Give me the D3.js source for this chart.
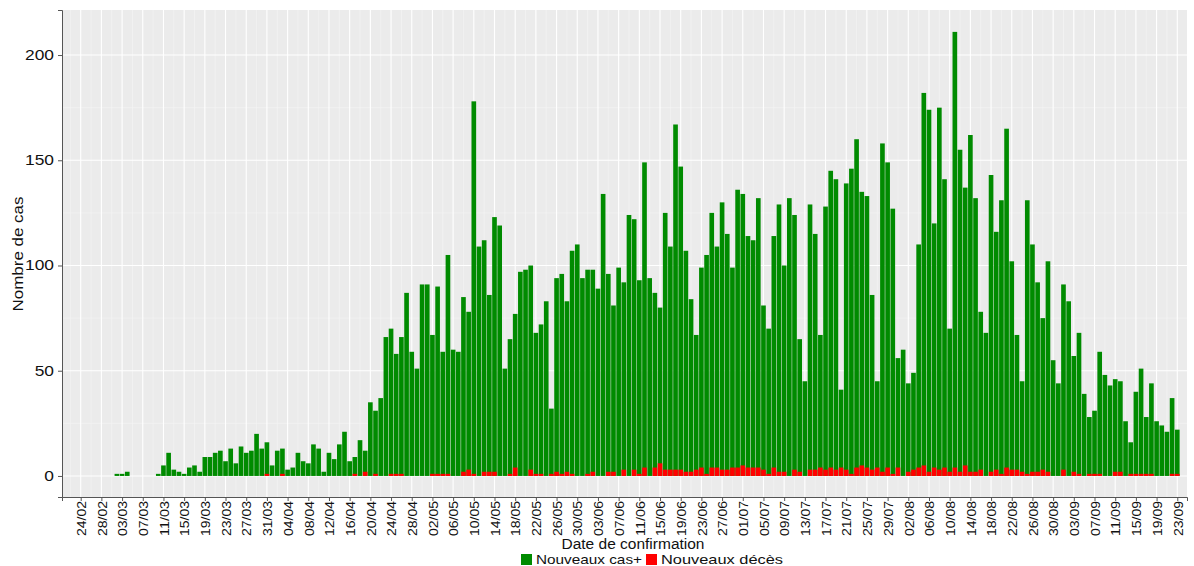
<!DOCTYPE html>
<html>
<head>
<meta charset="utf-8">
<script src="https://cdn.jsdelivr.net/npm/d3@7"></script>
<style>
    body { margin: 0; background: #ffffff; }
    svg { display: block; font-family: "Liberation Sans", Arial, Helvetica, sans-serif; }
</style>
</head>
<body>
<div id="chart"></div>
<script>

// daily values, one entry per day starting at 24/02/2020
const startDate = "2020-02-24";

const newCases = [
    0, 0, 0, 0, 0, 0, 0, 1, 1, 2,
    0, 0, 0, 0, 0, 1, 5, 11, 3, 2,
    1, 4, 5, 2, 9, 9, 11, 12, 7, 13,
    6, 14, 11, 12, 20, 13, 16, 5, 12, 13,
    3, 4, 11, 7, 6, 15, 13, 2, 11, 8,
    15, 21, 7, 9, 17, 12, 35, 31, 37, 66,
    70, 58, 66, 87, 59, 51, 91, 91, 67, 90,
    59, 105, 60, 59, 85, 78, 178, 109, 112, 86,
    123, 119, 51, 65, 77, 97, 98, 100, 68, 72,
    83, 32, 94, 96, 83, 107, 110, 94, 98, 98,
    89, 134, 96, 81, 99, 92, 124, 122, 93, 149,
    94, 87, 80, 125, 109, 167, 147, 107, 84, 67,
    99, 105, 125, 109, 130, 115, 99, 136, 134, 114,
    112, 132, 81, 70, 114, 129, 100, 132, 124, 65,
    45, 129, 115, 67, 128, 145, 141, 41, 139, 146,
    160, 135, 133, 86, 45, 158, 149, 127, 56, 60,
    44, 49, 110, 182, 174, 120, 175, 141, 70, 211,
    155, 137, 162, 132, 78, 68, 143, 116, 131, 165,
    102, 67, 45, 131, 110, 92, 75, 102, 55, 44,
    91, 83, 57, 68, 39, 28, 31, 59, 48, 43,
    46, 45, 26, 16, 40, 51, 28, 44, 26, 24,
    21, 37, 22
];

const newDeaths = [
    0, 0, 0, 0, 0, 0, 0, 0, 0, 0,
    0, 0, 0, 0, 0, 0, 0, 0, 0, 0,
    0, 0, 0, 0, 0, 0, 0, 0, 0, 0,
    0, 0, 0, 0, 0, 0, 1, 0, 0, 1,
    0, 0, 0, 0, 0, 0, 0, 0, 0, 0,
    0, 0, 0, 1, 0, 2, 0, 1, 0, 0,
    1, 1, 1, 0, 0, 0, 0, 0, 1, 1,
    1, 1, 0, 0, 2, 3, 1, 0, 2, 2,
    2, 0, 0, 1, 4, 0, 0, 3, 1, 1,
    0, 1, 2, 1, 2, 1, 0, 0, 1, 2,
    0, 0, 2, 2, 0, 3, 0, 3, 1, 4,
    0, 4, 6, 3, 3, 3, 3, 2, 2, 3,
    4, 1, 4, 4, 3, 3, 4, 4, 5, 4,
    4, 4, 3, 1, 4, 2, 2, 0, 3, 2,
    0, 3, 3, 4, 3, 4, 3, 4, 3, 1,
    4, 5, 4, 3, 4, 2, 4, 1, 4, 0,
    2, 3, 4, 5, 2, 4, 3, 4, 2, 4,
    2, 5, 2, 2, 3, 0, 2, 3, 1, 4,
    3, 3, 2, 1, 2, 2, 3, 2, 0, 0,
    3, 0, 2, 1, 0, 1, 1, 1, 0, 0,
    2, 2, 0, 1, 1, 1, 1, 1, 0, 0,
    0, 1, 1
];

const tickLabels = [
    "24/02", "28/02", "03/03", "07/03", "11/03", "15/03", "19/03", "23/03", "27/03",
    "31/03", "04/04", "08/04", "12/04", "16/04", "20/04", "24/04", "28/04", "02/05",
    "06/05", "10/05", "14/05", "18/05", "22/05", "26/05", "30/05", "03/06", "07/06",
    "11/06", "15/06", "19/06", "23/06", "27/06", "01/07", "05/07", "09/07", "13/07",
    "17/07", "21/07", "25/07", "29/07", "02/08", "06/08", "10/08", "14/08", "18/08",
    "22/08", "26/08", "30/08", "03/09", "07/09", "11/09", "15/09", "19/09", "23/09"
];

const yTicks = [0, 50, 100, 150, 200];
const yMinor = [25, 75, 125, 175];

const seriesNames = ["Nouveaux cas+", "Nouveaux décès"];
const seriesColors = ["#008B00", "#FF0000"];

const width = 1194;
const height = 566;

const panel = { left: 62, right: 1187, top: 10, bottom: 497 };

// the original text is drawn a little wider than the font
function widen(selection, k) {
    selection.each(function() {
        const w = this.getComputedTextLength();
        d3.select(this)
            .attr("textLength", w * k)
            .attr("lengthAdjust", "spacingAndGlyphs");
    });
}

const svg = d3.select("#chart")
    .append("svg")
    .attr("width", width)
    .attr("height", height);

const day0 = d3.utcParse("%Y-%m-%d")(startDate);
const dayMs = 864e5;

const dates = newCases.map(function(d, i) {
    return d3.utcDay.offset(day0, i);
});

const tickDates = tickLabels.map(function(d, i) {
    return d3.utcDay.offset(day0, i * 4);
});

// panel limits in days, measured on the original
const x = d3.scaleUtc()
    .domain([new Date(+day0 - 3.615 * dayMs), new Date(+day0 + 213.88 * dayMs)])
    .range([panel.left, panel.right]);

const y = d3.scaleLinear()
    .domain([-10, 221.4])
    .range([panel.bottom, panel.top]);

// panel background
svg.append("rect")
    .attr("x", panel.left)
    .attr("y", panel.top)
    .attr("width", panel.right - panel.left)
    .attr("height", panel.bottom - panel.top)
    .attr("fill", "#EBEBEB");

// minor grid
const minorX = [d3.utcDay.offset(day0, -2)].concat(tickDates.map(function(d) {
    return d3.utcDay.offset(d, 2);
}));

svg.append("g")
    .selectAll("line")
    .data(minorX.filter(function(d) { return x(d) > panel.left && x(d) < panel.right; }))
    .enter()
    .append("line")
    .attr("x1", function(d) { return x(d); })
    .attr("x2", function(d) { return x(d); })
    .attr("y1", panel.top)
    .attr("y2", panel.bottom)
    .attr("stroke", "#F5F5F5")
    .attr("stroke-width", 0.6);

svg.append("g")
    .selectAll("line")
    .data(yMinor)
    .enter()
    .append("line")
    .attr("x1", panel.left)
    .attr("x2", panel.right)
    .attr("y1", function(d) { return y(d); })
    .attr("y2", function(d) { return y(d); })
    .attr("stroke", "#F5F5F5")
    .attr("stroke-width", 0.6);

// major grid
svg.append("g")
    .selectAll("line")
    .data(tickDates)
    .enter()
    .append("line")
    .attr("x1", function(d) { return x(d); })
    .attr("x2", function(d) { return x(d); })
    .attr("y1", panel.top)
    .attr("y2", panel.bottom)
    .attr("stroke", "#ffffff")
    .attr("stroke-width", 1.1);

svg.append("g")
    .selectAll("line")
    .data(yTicks)
    .enter()
    .append("line")
    .attr("x1", panel.left)
    .attr("x2", panel.right)
    .attr("y1", function(d) { return y(d); })
    .attr("y2", function(d) { return y(d); })
    .attr("stroke", "#ffffff")
    .attr("stroke-width", 1.1);

// bars
const barW = (x(dates[1]) - x(dates[0])) * 0.9;

svg.append("g")
    .selectAll("rect")
    .data(newCases)
    .enter()
    .append("rect")
    .attr("x", function(d, i) { return x(dates[i]) - barW / 2; })
    .attr("y", function(d) { return y(d); })
    .attr("width", barW)
    .attr("height", function(d) { return y(0) - y(d); })
    .attr("fill", seriesColors[0]);

svg.append("g")
    .selectAll("rect")
    .data(newDeaths)
    .enter()
    .append("rect")
    .attr("x", function(d, i) { return x(dates[i]) - barW / 2; })
    .attr("y", function(d) { return y(d); })
    .attr("width", barW)
    .attr("height", function(d) { return y(0) - y(d); })
    .attr("fill", seriesColors[1]);

// axes
const xAxis = d3.axisBottom(x)
    .tickValues(tickDates)
    .tickFormat(function(d, i) { return tickLabels[i]; })
    .tickSize(4)
    .tickPadding(3);

const gx = svg.append("g")
    .attr("transform", "translate(0," + panel.bottom + ")")
    .call(xAxis);

gx.select(".domain").attr("stroke", "#555555");
gx.selectAll(".tick line").attr("stroke", "#555555");
gx.selectAll(".tick text")
    .attr("transform", "rotate(-90)")
    .attr("text-anchor", "end")
    .attr("x", -4)
    .attr("y", 0)
    .attr("dy", "0.35em")
    .attr("font-size", 13.5)
    .attr("fill", "#111111")
    .attr("textLength", 35)
    .attr("lengthAdjust", "spacingAndGlyphs");

const yAxis = d3.axisLeft(y)
    .tickValues(yTicks)
    .tickSize(4)
    .tickPadding(4);

const gy = svg.append("g")
    .attr("transform", "translate(" + panel.left + ",0)")
    .call(yAxis);

gy.select(".domain").attr("stroke", "#555555");
gy.selectAll(".tick line").attr("stroke", "#555555");
gy.selectAll(".tick text")
    .attr("font-size", 14)
    .attr("fill", "#111111")
    .call(widen, 1.24);

// titles
svg.append("text")
    .attr("transform", "translate(23,254) rotate(-90)")
    .attr("text-anchor", "middle")
    .attr("font-size", 15)
    .attr("textLength", 115)
    .attr("lengthAdjust", "spacingAndGlyphs")
    .attr("fill", "#111111")
    .text("Nombre de cas");

svg.append("text")
    .attr("x", 633)
    .attr("y", 549)
    .attr("text-anchor", "middle")
    .attr("font-size", 14)
    .attr("textLength", 143)
    .attr("lengthAdjust", "spacingAndGlyphs")
    .attr("fill", "#111111")
    .text("Date de confirmation");

// legend
const legendX = [521, 646];
const legendW = [106, 122];

const legend = svg.append("g")
    .selectAll("g")
    .data(seriesNames)
    .enter()
    .append("g")
    .attr("transform", function(d, i) {
        return "translate(" + legendX[i] + ",554)";
    });

legend.append("rect")
    .attr("width", 11)
    .attr("height", 11)
    .attr("fill", function(d, i) { return seriesColors[i]; });

legend.append("text")
    .attr("x", 15)
    .attr("y", 10)
    .attr("font-size", 13)
    .attr("textLength", function(d, i) { return legendW[i]; })
    .attr("lengthAdjust", "spacingAndGlyphs")
    .attr("fill", "#111111")
    .text(function(d) { return d; });

</script>
</body>
</html>
